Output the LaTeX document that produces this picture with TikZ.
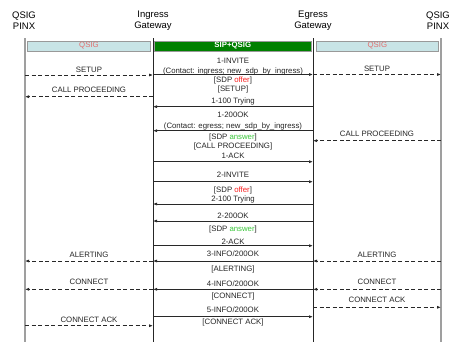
\documentclass[tikz,border=0pt]{standalone}
\usepackage{fontspec}
\setmainfont{Liberation Sans}
\usepackage{xcolor}
\usetikzlibrary{arrows.meta}
\definecolor{qsigfill}{RGB}{200,228,230}
\definecolor{qsigtext}{RGB}{226,110,110}
\definecolor{sipgreen}{RGB}{0,128,0}
\definecolor{offerred}{RGB}{250,30,30}
\definecolor{answergreen}{RGB}{60,200,60}
\definecolor{wire}{RGB}{40,40,40}

\begin{document}
\begin{tikzpicture}[x=1pt, y=-1pt,
    >={Latex[length=4pt,width=3pt]},
    hdr/.style={align=center, font=\fontsize{9.5}{10.5}\selectfont, inner sep=0},
    bar/.style={draw=gray!80, line width=0.8pt, fill=#1, minimum height=10pt, inner sep=0, font=\fontsize{7.8}{8}\selectfont},
    bar/.default={qsigfill},
    pinx/.style={draw=gray!75, line width=1.1pt},
    gw/.style={draw=black!85, line width=0.7pt},
    msg/.style={draw=wire, line width=0.7pt, ->},
    qmsg/.style={msg, dash pattern=on 4pt off 2.5pt},
    lbl/.style={font=\fontsize{7.8}{8}\selectfont, text=black!85, inner sep=0, text height=5.6pt, text depth=0pt}
]
\useasboundingbox[fill=white] (0,0) rectangle (474,351);

% entities
\node[hdr] (pinxA) at (24,20.5) {QSIG\\PINX};
\node[hdr] (ingw) at (153,20.5) {Ingress\\Gateway};
\node[hdr] (egw) at (313,20.5) {Egress\\Gateway};
\node[hdr] (pinxB) at (438,20.5) {QSIG\\PINX};

% lifelines
\coordinate (lA) at (25,38);   \coordinate (lAend) at (25,342);
\coordinate (lI) at (153,38);  \coordinate (lIend) at (153,342);
\coordinate (lE) at (313,38);  \coordinate (lEend) at (313,342);
\coordinate (lB) at (441,38);  \coordinate (lBend) at (441,342);
\draw[pinx] (lA) -- (lAend);
\draw[gw] (lI) -- (lIend);
\draw[gw] (lE) -- (lEend);
\draw[pinx] (lB) -- (lBend);

% protocol bars
\node[bar, minimum width=122.6pt, text=qsigtext] (barA) at (89,46) {QSIG};
\node[bar=sipgreen, minimum width=157pt, text=white, font=\fontsize{7.8}{8}\selectfont\bfseries] (barG) at (232.8,46) {SIP+QSIG};
\node[bar, minimum width=122.7pt, text=qsigtext] (barB) at (377.4,46) {QSIG};

% message rows
\coordinate (r1) at (0,75);
\coordinate (r2) at (0,74.5);
\coordinate (r3) at (0,96.7);
\coordinate (r4) at (0,106.7);
\coordinate (r5) at (0,130.7);
\coordinate (r6) at (0,140.7);
\coordinate (r7) at (0,161.7);
\coordinate (r8) at (0,181.7);
\coordinate (r9) at (0,204);
\coordinate (r10) at (0,221);
\coordinate (r11) at (0,245.7);
\coordinate (r12) at (0,261);
\coordinate (r13) at (0,289.3);
\coordinate (r14) at (0,307.3);
\coordinate (r15) at (0,316.7);
\coordinate (r16) at (0,325.7);

% QSIG side, left
\draw[qmsg] (lA |- r1) -- (lI |- r1);
\node[lbl] (setupA) at (89,69.3) {SETUP};
\draw[qmsg] (lI |- r3) -- (lA |- r3);
\node[lbl] (procA) at (89,89.7) {CALL PROCEEDING};
\draw[qmsg] (lI |- r12) -- (lA |- r12);
\node[lbl] (alertA) at (89,254.3) {ALERTING};
\draw[qmsg] (lI |- r13) -- (lA |- r13);
\node[lbl] (connA) at (89,281.7) {CONNECT};
\draw[qmsg] (lA |- r16) -- (lI |- r16);
\node[lbl] (cackA) at (89,319.3) {CONNECT ACK};

% QSIG side, right
\draw[qmsg] (lE |- r2) -- (lB |- r2);
\node[lbl] (setupB) at (377,68.3) {SETUP};
\draw[qmsg] (lB |- r6) -- (lE |- r6);
\node[lbl] (procB) at (377,133.7) {CALL PROCEEDING};
\draw[qmsg] (lB |- r12) -- (lE |- r12);
\node[lbl] (alertB) at (377,254.5) {ALERTING};
\draw[qmsg] (lB |- r13) -- (lE |- r13);
\node[lbl] (connB) at (377,281.7) {CONNECT};
\draw[qmsg] (lE |- r14) -- (lB |- r14);
\node[lbl] (cackB) at (377,299.3) {CONNECT ACK};

% SIP between the gateways
\draw[msg] (lI |- r2) -- (lE |- r2);
\node[lbl] (inv1) at (233,60.7) {1-INVITE};
\node[lbl] (inv1c) at (233,70.7) {(Contact: ingress; new\_sdp\_by\_ingress)};
\node[lbl] (inv1o) at (233,79.3) {[SDP \textcolor{offerred}{offer}]};
\node[lbl] (inv1s) at (233,88.3) {[SETUP]};
\draw[msg] (lE |- r4) -- (lI |- r4);
\node[lbl] (try1) at (233,101) {1-100 Trying};
\draw[msg] (lE |- r5) -- (lI |- r5);
\node[lbl] (ok1) at (233,115) {1-200OK};
\node[lbl] (ok1c) at (233,125.7) {(Contact: egress; new\_sdp\_by\_ingress)};
\node[lbl] (ok1a) at (233,136.7) {[SDP \textcolor{answergreen}{answer}]};
\node[lbl] (ok1p) at (233,146) {[CALL PROCEEDING]};
\draw[msg] (lI |- r7) -- (lE |- r7);
\node[lbl] (ack1) at (233,156) {1-ACK};
\draw[msg] (lI |- r8) -- (lE |- r8);
\node[lbl] (inv2) at (233,175) {2-INVITE};
\node[lbl] (inv2o) at (233,190) {[SDP \textcolor{offerred}{offer}]};
\draw[msg] (lE |- r9) -- (lI |- r9);
\node[lbl] (try2) at (233,199) {2-100 Trying};
\draw[msg] (lE |- r10) -- (lI |- r10);
\node[lbl] (ok2) at (233,215.7) {2-200OK};
\node[lbl] (ok2a) at (233,228.3) {[SDP \textcolor{answergreen}{answer}]};
\draw[msg] (lI |- r11) -- (lE |- r11);
\node[lbl] (ack2) at (233,241.7) {2-ACK};
\draw[msg] (lE |- r12) -- (lI |- r12);
\node[lbl] (info3) at (233,254) {3-INFO/200OK};
\node[lbl] (info3t) at (233,268.3) {[ALERTING]};
\draw[msg] (lE |- r13) -- (lI |- r13);
\node[lbl] (info4) at (233,284) {4-INFO/200OK};
\node[lbl] (info4t) at (233,295.7) {[CONNECT]};
\draw[msg] (lI |- r15) -- (lE |- r15);
\node[lbl] (info5) at (233,310) {5-INFO/200OK};
\node[lbl] (info5t) at (233,321.7) {[CONNECT ACK]};

\end{tikzpicture}
\end{document}
